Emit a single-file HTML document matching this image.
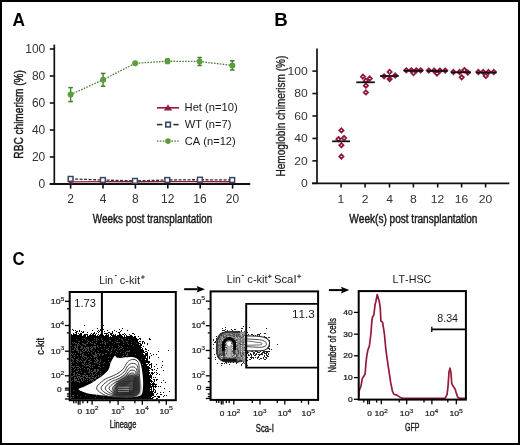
<!DOCTYPE html><html><head><meta charset="utf-8"><style>html,body{margin:0;padding:0;background:#fff;}svg{display:block;filter:blur(0.22px);}text{font-family:"Liberation Sans",sans-serif;font-kerning:none;}</style></head><body>
<svg width="520" height="445" viewBox="0 0 520 445">
<rect x="0" y="0" width="520" height="445" fill="#fff"/>
<defs><filter id="bl" x="-5%" y="-5%" width="110%" height="110%"><feGaussianBlur stdDeviation="0.45"/></filter><filter id="bl2" x="-20%" y="-20%" width="140%" height="140%"><feGaussianBlur stdDeviation="1.2"/></filter></defs>
<text transform="translate(12.47,25.60) scale(0.9346,1)" font-size="18.5" font-weight="bold" fill="#000" >A</text>
<line x1="54.30" y1="44.60" x2="54.30" y2="184.80" stroke="#111" stroke-width="1.7" />
<line x1="49.80" y1="184.00" x2="250.20" y2="184.00" stroke="#111" stroke-width="1.8" />
<line x1="49.80" y1="184.00" x2="54.30" y2="184.00" stroke="#111" stroke-width="1.6" />
<text transform="translate(38.59,187.90) scale(1.0000,1)" font-size="12" font-weight="normal" fill="#333" >0</text>
<line x1="49.80" y1="157.00" x2="54.30" y2="157.00" stroke="#111" stroke-width="1.6" />
<text transform="translate(31.92,160.90) scale(1.0000,1)" font-size="12" font-weight="normal" fill="#333" >20</text>
<line x1="49.80" y1="130.00" x2="54.30" y2="130.00" stroke="#111" stroke-width="1.6" />
<text transform="translate(31.92,133.90) scale(1.0000,1)" font-size="12" font-weight="normal" fill="#333" >40</text>
<line x1="49.80" y1="103.00" x2="54.30" y2="103.00" stroke="#111" stroke-width="1.6" />
<text transform="translate(31.92,106.90) scale(1.0000,1)" font-size="12" font-weight="normal" fill="#333" >60</text>
<line x1="49.80" y1="76.00" x2="54.30" y2="76.00" stroke="#111" stroke-width="1.6" />
<text transform="translate(31.92,79.90) scale(1.0000,1)" font-size="12" font-weight="normal" fill="#333" >80</text>
<line x1="49.80" y1="49.00" x2="54.30" y2="49.00" stroke="#111" stroke-width="1.6" />
<text transform="translate(25.25,52.90) scale(1.0000,1)" font-size="12" font-weight="normal" fill="#333" >100</text>
<line x1="70.60" y1="184.00" x2="70.60" y2="188.60" stroke="#111" stroke-width="1.6" />
<text transform="translate(67.26,203.30) scale(1.0000,1)" font-size="12" font-weight="normal" fill="#333" >2</text>
<line x1="103.00" y1="184.00" x2="103.00" y2="188.60" stroke="#111" stroke-width="1.6" />
<text transform="translate(99.70,203.30) scale(1.0000,1)" font-size="12" font-weight="normal" fill="#333" >4</text>
<line x1="135.40" y1="184.00" x2="135.40" y2="188.60" stroke="#111" stroke-width="1.6" />
<text transform="translate(132.06,203.30) scale(1.0000,1)" font-size="12" font-weight="normal" fill="#333" >8</text>
<line x1="167.80" y1="184.00" x2="167.80" y2="188.60" stroke="#111" stroke-width="1.6" />
<text transform="translate(160.97,203.30) scale(1.0000,1)" font-size="12" font-weight="normal" fill="#333" >12</text>
<line x1="200.20" y1="184.00" x2="200.20" y2="188.60" stroke="#111" stroke-width="1.6" />
<text transform="translate(193.33,203.30) scale(1.0000,1)" font-size="12" font-weight="normal" fill="#333" >16</text>
<line x1="232.60" y1="184.00" x2="232.60" y2="188.60" stroke="#111" stroke-width="1.6" />
<text transform="translate(225.86,203.30) scale(1.0000,1)" font-size="12" font-weight="normal" fill="#333" >20</text>
<text transform="translate(92.76,223.00) scale(0.7862,1)" font-size="12.6" font-weight="normal" fill="#1a1a1a" stroke="#1a1a1a" stroke-width="0.45" >Weeks post transplantation</text>
<text transform="translate(22.50,158.63) rotate(-90) scale(0.7891,1)" font-size="12.8" font-weight="normal" fill="#1a1a1a" stroke="#1a1a1a" stroke-width="0.45">RBC chimerism (%)</text>
<line x1="156.90" y1="107.80" x2="179.00" y2="107.80" stroke="#961a3e" stroke-width="1.6" />
<path d="M168.00,104.60 L172.20,110.40 L163.80,110.40 Z" fill="#961a3e" stroke="none" stroke-width="1" />
<line x1="156.90" y1="124.60" x2="162.40" y2="124.60" stroke="#2a2f3f" stroke-width="1.6" />
<line x1="173.40" y1="124.60" x2="178.60" y2="124.60" stroke="#2a2f3f" stroke-width="1.6" />
<rect x="165.8" y="122.3" width="4.6" height="4.6" fill="#fff" stroke="#3a4562" stroke-width="1.6"/>
<line x1="156.90" y1="141.20" x2="179.00" y2="141.20" stroke="#4a7f30" stroke-width="1.3" stroke-dasharray="1.6 1.3"/>
<circle cx="168" cy="141.1" r="2.8" fill="#5a9e3c"/>
<text transform="translate(184.58,110.70) scale(1.0272,1)" font-size="10.9" font-weight="normal" fill="#1a1a1a" >Het (n=10)</text>
<text transform="translate(184.85,127.80) scale(1.0178,1)" font-size="10.9" font-weight="normal" fill="#1a1a1a" >WT (n=7)</text>
<text transform="translate(184.73,144.70) scale(1.0215,1)" font-size="10.9" font-weight="normal" fill="#1a1a1a" >CA (n=12)</text>
<path d="M70.60,181.90 L102.90,181.60 L135.00,181.70 L167.30,181.60 L199.90,181.60 L232.20,181.70" fill="none" stroke="#961a3e" stroke-width="1.4" />
<path d="M70.60,178.90 L102.90,180.00 L135.00,180.90 L167.30,180.00 L199.90,179.70 L232.20,180.00" fill="none" stroke="#2a2f3f" stroke-width="1.3" stroke-dasharray="3 1.5"/>
<path d="M70.60,179.30 L73.20,183.50 L68.00,183.50 Z" fill="#961a3e" stroke="none" stroke-width="1" />
<path d="M102.90,179.00 L105.50,183.20 L100.30,183.20 Z" fill="#961a3e" stroke="none" stroke-width="1" />
<path d="M135.00,179.10 L137.60,183.30 L132.40,183.30 Z" fill="#961a3e" stroke="none" stroke-width="1" />
<path d="M167.30,179.00 L169.90,183.20 L164.70,183.20 Z" fill="#961a3e" stroke="none" stroke-width="1" />
<path d="M199.90,179.00 L202.50,183.20 L197.30,183.20 Z" fill="#961a3e" stroke="none" stroke-width="1" />
<path d="M232.20,179.10 L234.80,183.30 L229.60,183.30 Z" fill="#961a3e" stroke="none" stroke-width="1" />
<rect x="68.20" y="176.50" width="4.8" height="4.8" fill="#fff" stroke="#3a4562" stroke-width="1.5"/>
<rect x="100.50" y="177.60" width="4.8" height="4.8" fill="#fff" stroke="#3a4562" stroke-width="1.5"/>
<rect x="132.60" y="178.50" width="4.8" height="4.8" fill="#fff" stroke="#3a4562" stroke-width="1.5"/>
<rect x="164.90" y="177.60" width="4.8" height="4.8" fill="#fff" stroke="#3a4562" stroke-width="1.5"/>
<rect x="197.50" y="177.30" width="4.8" height="4.8" fill="#fff" stroke="#3a4562" stroke-width="1.5"/>
<rect x="229.80" y="177.60" width="4.8" height="4.8" fill="#fff" stroke="#3a4562" stroke-width="1.5"/>
<path d="M70.60,94.60 L103.10,79.80 L135.20,63.30 L167.50,61.20 L199.60,61.50 L232.30,65.40" fill="none" stroke="#4a7f30" stroke-width="1.3" stroke-dasharray="1.6 1.3"/>
<line x1="70.60" y1="87.60" x2="70.60" y2="101.60" stroke="#4a7f30" stroke-width="1.4" />
<line x1="68.30" y1="87.60" x2="72.90" y2="87.60" stroke="#4a7f30" stroke-width="1.5" />
<line x1="68.30" y1="101.60" x2="72.90" y2="101.60" stroke="#4a7f30" stroke-width="1.5" />
<circle cx="70.6" cy="94.6" r="3.0" fill="#5a9e3c"/>
<line x1="103.10" y1="73.40" x2="103.10" y2="86.20" stroke="#4a7f30" stroke-width="1.4" />
<line x1="100.80" y1="73.40" x2="105.40" y2="73.40" stroke="#4a7f30" stroke-width="1.5" />
<line x1="100.80" y1="86.20" x2="105.40" y2="86.20" stroke="#4a7f30" stroke-width="1.5" />
<circle cx="103.1" cy="79.8" r="3.0" fill="#5a9e3c"/>
<circle cx="135.2" cy="63.3" r="3.0" fill="#5a9e3c"/>
<line x1="167.50" y1="59.00" x2="167.50" y2="63.40" stroke="#4a7f30" stroke-width="1.4" />
<line x1="165.20" y1="59.00" x2="169.80" y2="59.00" stroke="#4a7f30" stroke-width="1.5" />
<line x1="165.20" y1="63.40" x2="169.80" y2="63.40" stroke="#4a7f30" stroke-width="1.5" />
<circle cx="167.5" cy="61.2" r="3.0" fill="#5a9e3c"/>
<line x1="199.60" y1="57.50" x2="199.60" y2="65.50" stroke="#4a7f30" stroke-width="1.4" />
<line x1="197.30" y1="57.50" x2="201.90" y2="57.50" stroke="#4a7f30" stroke-width="1.5" />
<line x1="197.30" y1="65.50" x2="201.90" y2="65.50" stroke="#4a7f30" stroke-width="1.5" />
<circle cx="199.6" cy="61.5" r="3.0" fill="#5a9e3c"/>
<line x1="232.30" y1="60.80" x2="232.30" y2="70.00" stroke="#4a7f30" stroke-width="1.4" />
<line x1="230.00" y1="60.80" x2="234.60" y2="60.80" stroke="#4a7f30" stroke-width="1.5" />
<line x1="230.00" y1="70.00" x2="234.60" y2="70.00" stroke="#4a7f30" stroke-width="1.5" />
<circle cx="232.3" cy="65.4" r="3.0" fill="#5a9e3c"/>
<text transform="translate(274.35,25.80) scale(1.0104,1)" font-size="18.5" font-weight="bold" fill="#000" >B</text>
<line x1="317.00" y1="48.40" x2="317.00" y2="184.10" stroke="#111" stroke-width="1.7" />
<line x1="312.00" y1="183.30" x2="509.30" y2="183.30" stroke="#111" stroke-width="1.8" />
<line x1="312.40" y1="183.30" x2="317.00" y2="183.30" stroke="#111" stroke-width="1.6" />
<text transform="translate(301.12,187.00) scale(1.1800,1)" font-size="10.3" font-weight="normal" fill="#333" >0</text>
<line x1="312.40" y1="160.86" x2="317.00" y2="160.86" stroke="#111" stroke-width="1.6" />
<text transform="translate(294.36,164.56) scale(1.1800,1)" font-size="10.3" font-weight="normal" fill="#333" >20</text>
<line x1="312.40" y1="138.42" x2="317.00" y2="138.42" stroke="#111" stroke-width="1.6" />
<text transform="translate(294.36,142.12) scale(1.1800,1)" font-size="10.3" font-weight="normal" fill="#333" >40</text>
<line x1="312.40" y1="115.98" x2="317.00" y2="115.98" stroke="#111" stroke-width="1.6" />
<text transform="translate(294.36,119.68) scale(1.1800,1)" font-size="10.3" font-weight="normal" fill="#333" >60</text>
<line x1="312.40" y1="93.54" x2="317.00" y2="93.54" stroke="#111" stroke-width="1.6" />
<text transform="translate(294.36,97.24) scale(1.1800,1)" font-size="10.3" font-weight="normal" fill="#333" >80</text>
<line x1="312.40" y1="71.10" x2="317.00" y2="71.10" stroke="#111" stroke-width="1.6" />
<text transform="translate(287.60,74.80) scale(1.1800,1)" font-size="10.3" font-weight="normal" fill="#333" >100</text>
<line x1="341.10" y1="183.30" x2="341.10" y2="187.50" stroke="#111" stroke-width="1.6" />
<text transform="translate(337.55,202.90) scale(1.1800,1)" font-size="10.3" font-weight="normal" fill="#333" >1</text>
<line x1="365.10" y1="183.30" x2="365.10" y2="187.50" stroke="#111" stroke-width="1.6" />
<text transform="translate(361.72,202.90) scale(1.1800,1)" font-size="10.3" font-weight="normal" fill="#333" >2</text>
<line x1="389.50" y1="183.30" x2="389.50" y2="187.50" stroke="#111" stroke-width="1.6" />
<text transform="translate(386.16,202.90) scale(1.1800,1)" font-size="10.3" font-weight="normal" fill="#333" >4</text>
<line x1="413.40" y1="183.30" x2="413.40" y2="187.50" stroke="#111" stroke-width="1.6" />
<text transform="translate(410.02,202.90) scale(1.1800,1)" font-size="10.3" font-weight="normal" fill="#333" >8</text>
<line x1="437.70" y1="183.30" x2="437.70" y2="187.50" stroke="#111" stroke-width="1.6" />
<text transform="translate(430.78,202.90) scale(1.1800,1)" font-size="10.3" font-weight="normal" fill="#333" >12</text>
<line x1="461.60" y1="183.30" x2="461.60" y2="187.50" stroke="#111" stroke-width="1.6" />
<text transform="translate(454.64,202.90) scale(1.1800,1)" font-size="10.3" font-weight="normal" fill="#333" >16</text>
<line x1="485.60" y1="183.30" x2="485.60" y2="187.50" stroke="#111" stroke-width="1.6" />
<text transform="translate(478.77,202.90) scale(1.1800,1)" font-size="10.3" font-weight="normal" fill="#333" >20</text>
<text transform="translate(349.36,222.50) scale(0.8249,1)" font-size="12.2" font-weight="normal" fill="#1a1a1a" stroke="#1a1a1a" stroke-width="0.45" >Week(s) post transplantation</text>
<text transform="translate(284.60,176.53) rotate(-90) scale(0.8397,1)" font-size="12.0" font-weight="normal" fill="#1a1a1a" stroke="#1a1a1a" stroke-width="0.3">Hemoglobin chimerism (%)</text>
<path d="M341.40,128.25 L343.55,130.40 L341.40,132.55 L339.25,130.40 Z" fill="#fff" stroke="#8e1639" stroke-width="1.75"/>
<path d="M338.50,136.95 L340.65,139.10 L338.50,141.25 L336.35,139.10 Z" fill="#fff" stroke="#8e1639" stroke-width="1.75"/>
<path d="M344.10,135.85 L346.25,138.00 L344.10,140.15 L341.95,138.00 Z" fill="#fff" stroke="#8e1639" stroke-width="1.75"/>
<path d="M341.40,143.05 L343.55,145.20 L341.40,147.35 L339.25,145.20 Z" fill="#fff" stroke="#8e1639" stroke-width="1.75"/>
<path d="M341.40,154.35 L343.55,156.50 L341.40,158.65 L339.25,156.50 Z" fill="#fff" stroke="#8e1639" stroke-width="1.75"/>
<line x1="332.20" y1="141.30" x2="350.00" y2="141.30" stroke="#111" stroke-width="1.8" />
<path d="M363.00,74.55 L365.15,76.70 L363.00,78.85 L360.85,76.70 Z" fill="#fff" stroke="#8e1639" stroke-width="1.75"/>
<path d="M369.70,76.35 L371.85,78.50 L369.70,80.65 L367.55,78.50 Z" fill="#fff" stroke="#8e1639" stroke-width="1.75"/>
<path d="M365.90,78.75 L368.05,80.90 L365.90,83.05 L363.75,80.90 Z" fill="#fff" stroke="#8e1639" stroke-width="1.75"/>
<path d="M365.90,83.55 L368.05,85.70 L365.90,87.85 L363.75,85.70 Z" fill="#fff" stroke="#8e1639" stroke-width="1.75"/>
<path d="M365.90,90.25 L368.05,92.40 L365.90,94.55 L363.75,92.40 Z" fill="#fff" stroke="#8e1639" stroke-width="1.75"/>
<line x1="356.30" y1="82.30" x2="374.80" y2="82.30" stroke="#111" stroke-width="1.8" />
<path d="M389.60,69.75 L391.75,71.90 L389.60,74.05 L387.45,71.90 Z" fill="#fff" stroke="#8e1639" stroke-width="1.75"/>
<path d="M384.10,74.15 L386.25,76.30 L384.10,78.45 L381.95,76.30 Z" fill="#fff" stroke="#8e1639" stroke-width="1.75"/>
<path d="M395.20,73.35 L397.35,75.50 L395.20,77.65 L393.05,75.50 Z" fill="#fff" stroke="#8e1639" stroke-width="1.75"/>
<path d="M389.60,76.85 L391.75,79.00 L389.60,81.15 L387.45,79.00 Z" fill="#8e1639" stroke="#8e1639" stroke-width="1.75"/>
<line x1="380.00" y1="76.00" x2="398.70" y2="76.00" stroke="#111" stroke-width="1.8" />
<path d="M406.30,68.15 L408.45,70.30 L406.30,72.45 L404.15,70.30 Z" fill="#fff" stroke="#8e1639" stroke-width="1.75"/>
<path d="M411.30,68.15 L413.45,70.30 L411.30,72.45 L409.15,70.30 Z" fill="#fff" stroke="#8e1639" stroke-width="1.75"/>
<path d="M416.30,68.15 L418.45,70.30 L416.30,72.45 L414.15,70.30 Z" fill="#fff" stroke="#8e1639" stroke-width="1.75"/>
<path d="M420.70,68.15 L422.85,70.30 L420.70,72.45 L418.55,70.30 Z" fill="#fff" stroke="#8e1639" stroke-width="1.75"/>
<path d="M413.50,70.85 L415.65,73.00 L413.50,75.15 L411.35,73.00 Z" fill="#fff" stroke="#8e1639" stroke-width="1.75"/>
<line x1="403.80" y1="70.80" x2="423.00" y2="70.80" stroke="#111" stroke-width="1.8" />
<path d="M428.80,68.45 L430.95,70.60 L428.80,72.75 L426.65,70.60 Z" fill="#fff" stroke="#8e1639" stroke-width="1.75"/>
<path d="M434.10,68.45 L436.25,70.60 L434.10,72.75 L431.95,70.60 Z" fill="#fff" stroke="#8e1639" stroke-width="1.75"/>
<path d="M439.90,68.45 L442.05,70.60 L439.90,72.75 L437.75,70.60 Z" fill="#fff" stroke="#8e1639" stroke-width="1.75"/>
<path d="M445.20,68.45 L447.35,70.60 L445.20,72.75 L443.05,70.60 Z" fill="#fff" stroke="#8e1639" stroke-width="1.75"/>
<path d="M437.00,71.35 L439.15,73.50 L437.00,75.65 L434.85,73.50 Z" fill="#fff" stroke="#8e1639" stroke-width="1.75"/>
<line x1="427.00" y1="71.00" x2="447.60" y2="71.00" stroke="#111" stroke-width="1.8" />
<path d="M453.40,69.85 L455.55,72.00 L453.40,74.15 L451.25,72.00 Z" fill="#fff" stroke="#8e1639" stroke-width="1.75"/>
<path d="M459.60,69.85 L461.75,72.00 L459.60,74.15 L457.45,72.00 Z" fill="#fff" stroke="#8e1639" stroke-width="1.75"/>
<path d="M464.40,67.95 L466.55,70.10 L464.40,72.25 L462.25,70.10 Z" fill="#fff" stroke="#8e1639" stroke-width="1.75"/>
<path d="M467.80,70.35 L469.95,72.50 L467.80,74.65 L465.65,72.50 Z" fill="#fff" stroke="#8e1639" stroke-width="1.75"/>
<path d="M461.70,75.15 L463.85,77.30 L461.70,79.45 L459.55,77.30 Z" fill="#fff" stroke="#8e1639" stroke-width="1.75"/>
<line x1="451.00" y1="72.30" x2="471.00" y2="72.30" stroke="#111" stroke-width="1.8" />
<path d="M478.40,69.85 L480.55,72.00 L478.40,74.15 L476.25,72.00 Z" fill="#fff" stroke="#8e1639" stroke-width="1.75"/>
<path d="M483.20,69.85 L485.35,72.00 L483.20,74.15 L481.05,72.00 Z" fill="#fff" stroke="#8e1639" stroke-width="1.75"/>
<path d="M488.50,69.85 L490.65,72.00 L488.50,74.15 L486.35,72.00 Z" fill="#fff" stroke="#8e1639" stroke-width="1.75"/>
<path d="M493.80,69.85 L495.95,72.00 L493.80,74.15 L491.65,72.00 Z" fill="#fff" stroke="#8e1639" stroke-width="1.75"/>
<path d="M485.80,73.75 L487.95,75.90 L485.80,78.05 L483.65,75.90 Z" fill="#fff" stroke="#8e1639" stroke-width="1.75"/>
<line x1="476.00" y1="72.50" x2="496.60" y2="72.50" stroke="#111" stroke-width="1.8" />
<text transform="translate(12.41,265.00) scale(0.9094,1)" font-size="18.5" font-weight="bold" fill="#000" >C</text>
<text transform="translate(99.24,283.70) scale(0.9323,1)" font-size="11.2" font-weight="normal" fill="#1a1a1a" >Lin</text>
<line x1="114.90" y1="275.60" x2="116.70" y2="275.60" stroke="#1a1a1a" stroke-width="1.0" />
<text transform="translate(119.73,283.70) scale(0.9914,1)" font-size="11.2" font-weight="normal" fill="#1a1a1a" >c-kit</text>
<line x1="141.00" y1="277.10" x2="144.80" y2="277.10" stroke="#1a1a1a" stroke-width="0.85" />
<line x1="142.90" y1="275.20" x2="142.90" y2="279.00" stroke="#1a1a1a" stroke-width="0.85" />
<text transform="translate(226.84,283.30) scale(0.9323,1)" font-size="11.2" font-weight="normal" fill="#1a1a1a" >Lin</text>
<line x1="241.70" y1="275.40" x2="243.80" y2="275.40" stroke="#1a1a1a" stroke-width="1.0" />
<text transform="translate(247.33,283.30) scale(0.9914,1)" font-size="11.2" font-weight="normal" fill="#1a1a1a" >c-kit</text>
<line x1="268.00" y1="276.30" x2="271.60" y2="276.30" stroke="#1a1a1a" stroke-width="0.85" />
<line x1="269.80" y1="274.50" x2="269.80" y2="278.10" stroke="#1a1a1a" stroke-width="0.85" />
<text transform="translate(273.99,283.30) scale(1.0063,1)" font-size="11.2" font-weight="normal" fill="#1a1a1a" >ScaI</text>
<line x1="297.20" y1="276.30" x2="301.00" y2="276.30" stroke="#1a1a1a" stroke-width="0.85" />
<line x1="299.10" y1="274.40" x2="299.10" y2="278.20" stroke="#1a1a1a" stroke-width="0.85" />
<text transform="translate(392.62,283.20) scale(0.9565,1)" font-size="11.2" font-weight="normal" fill="#1a1a1a" >LT-HSC</text>
<line x1="184.20" y1="289.20" x2="197.70" y2="289.20" stroke="#000" stroke-width="2.0" />
<path d="M205.00,289.20 L196.70,285.90 L197.90,289.20 L196.70,292.50 Z" fill="#000" stroke="none" stroke-width="1" />
<line x1="328.90" y1="290.10" x2="342.00" y2="290.10" stroke="#000" stroke-width="2.0" />
<path d="M349.30,290.10 L341.00,286.80 L342.20,290.10 L341.00,293.40 Z" fill="#000" stroke="none" stroke-width="1" />
<path d="M70.8,337.0 L80.0,336.6 L90.0,337.1 L100.0,336.7 L110.0,337.1 L120.0,336.7 L127.0,337.2 L132.0,337.8 L136.0,339.8 L138.6,344.5 L140.8,351.0 L143.5,358.0 L145.8,366.0 L147.5,375.0 L148.6,385.0 L148.8,393.0 L148.4,399.2 L70.8,399.2 Z" fill="#000"/>
<g filter="url(#bl)">
<path d="M84,325h1v1h-1zM103,325h1v1h-1zM97,328h1v1h-1zM122,328h1v1h-1zM72,329h1v1h-1zM100,329h1v1h-1zM103,329h1v1h-1zM119,329h1v1h-1zM73,330h1v1h-1zM75,330h1v1h-1zM79,330h1v1h-1zM92,330h1v1h-1zM98,330h1v1h-1zM100,330h1v1h-1zM107,330h1v1h-1zM114,330h1v1h-1zM121,330h1v1h-1zM127,330h1v1h-1zM76,331h2v1h-2zM79,331h1v1h-1zM81,331h1v1h-1zM83,331h1v1h-1zM97,331h1v1h-1zM99,331h1v1h-1zM104,331h1v1h-1zM112,331h1v1h-1zM116,331h1v1h-1zM120,331h1v1h-1zM75,332h2v1h-2zM82,332h2v1h-2zM87,332h1v1h-1zM94,332h1v1h-1zM98,332h1v1h-1zM108,332h2v1h-2zM112,332h1v1h-1zM118,332h2v1h-2zM73,333h1v1h-1zM76,333h1v1h-1zM78,333h1v1h-1zM80,333h2v1h-2zM91,333h1v1h-1zM93,333h2v1h-2zM96,333h1v1h-1zM104,333h4v1h-4zM110,333h3v1h-3zM119,333h1v1h-1zM124,333h1v1h-1zM132,333h2v1h-2zM71,334h1v1h-1zM73,334h4v1h-4zM79,334h3v1h-3zM84,334h4v1h-4zM90,334h1v1h-1zM92,334h2v1h-2zM95,334h1v1h-1zM98,334h1v1h-1zM100,334h1v1h-1zM102,334h1v1h-1zM106,334h1v1h-1zM108,334h1v1h-1zM110,334h2v1h-2zM113,334h1v1h-1zM115,334h1v1h-1zM119,334h2v1h-2zM122,334h2v1h-2zM125,334h1v1h-1zM129,334h1v1h-1zM134,334h1v1h-1zM71,335h11v1h-11zM83,335h3v1h-3zM87,335h1v1h-1zM89,335h7v1h-7zM97,335h1v1h-1zM99,335h5v1h-5zM105,335h4v1h-4zM111,335h5v1h-5zM117,335h5v1h-5zM124,335h1v1h-1zM126,335h1v1h-1zM130,335h2v1h-2zM71,336h15v1h-15zM87,336h22v1h-22zM110,336h1v1h-1zM112,336h11v1h-11zM124,336h1v1h-1zM126,336h7v1h-7zM134,336h2v1h-2zM138,336h1v1h-1zM72,337h64v1h-64zM128,338h9v1h-9zM139,338h2v1h-2zM149,338h1v1h-1zM133,339h6v1h-6zM140,339h1v1h-1zM149,339h2v1h-2zM135,340h3v1h-3zM136,341h2v1h-2zM139,341h2v1h-2zM142,341h2v1h-2zM136,342h3v1h-3zM142,342h1v1h-1zM144,342h1v1h-1zM137,343h4v1h-4zM142,343h1v1h-1zM144,343h1v1h-1zM147,343h1v1h-1zM137,344h2v1h-2zM140,344h2v1h-2zM147,344h1v1h-1zM138,345h4v1h-4zM138,346h3v1h-3zM143,346h1v1h-1zM138,347h4v1h-4zM139,348h2v1h-2zM142,348h1v1h-1zM145,348h1v1h-1zM139,349h4v1h-4zM145,349h2v1h-2zM139,350h5v1h-5zM148,350h1v1h-1zM168,350h1v1h-1zM140,351h4v1h-4zM145,351h2v1h-2zM158,351h1v1h-1zM140,352h5v1h-5zM147,352h1v1h-1zM140,353h3v1h-3zM145,353h3v1h-3zM150,353h1v1h-1zM141,354h3v1h-3zM145,354h3v1h-3zM153,354h1v1h-1zM156,354h1v1h-1zM141,355h7v1h-7zM151,355h1v1h-1zM142,356h4v1h-4zM147,356h1v1h-1zM149,356h1v1h-1zM142,357h4v1h-4zM147,357h1v1h-1zM149,357h1v1h-1zM158,357h1v1h-1zM142,358h6v1h-6zM149,358h1v1h-1zM143,359h2v1h-2zM146,359h2v1h-2zM143,360h5v1h-5zM143,361h7v1h-7zM162,361h1v1h-1zM144,362h6v1h-6zM144,363h2v1h-2zM148,363h1v1h-1zM151,363h1v1h-1zM144,364h4v1h-4zM149,364h3v1h-3zM156,364h1v1h-1zM144,365h3v1h-3zM149,365h1v1h-1zM151,365h1v1h-1zM162,365h1v1h-1zM145,366h4v1h-4zM151,366h1v1h-1zM154,366h1v1h-1zM145,367h5v1h-5zM151,367h1v1h-1zM161,367h1v1h-1zM145,368h6v1h-6zM157,368h1v1h-1zM145,369h4v1h-4zM151,369h2v1h-2zM154,369h1v1h-1zM145,370h5v1h-5zM152,370h1v1h-1zM156,370h1v1h-1zM163,370h1v1h-1zM146,371h3v1h-3zM146,372h4v1h-4zM151,372h2v1h-2zM154,372h1v1h-1zM156,372h1v1h-1zM146,373h4v1h-4zM151,373h3v1h-3zM157,373h1v1h-1zM146,374h3v1h-3zM150,374h1v1h-1zM152,374h1v1h-1zM156,374h1v1h-1zM159,374h1v1h-1zM146,375h6v1h-6zM146,376h6v1h-6zM147,377h5v1h-5zM153,377h1v1h-1zM155,377h1v1h-1zM147,378h3v1h-3zM151,378h1v1h-1zM147,379h4v1h-4zM153,379h2v1h-2zM156,379h2v1h-2zM147,380h5v1h-5zM154,380h1v1h-1zM156,380h1v1h-1zM163,380h1v1h-1zM147,381h6v1h-6zM154,381h1v1h-1zM147,382h3v1h-3zM151,382h1v1h-1zM153,382h1v1h-1zM161,382h1v1h-1zM165,382h1v1h-1zM147,383h4v1h-4zM152,383h3v1h-3zM147,384h10v1h-10zM147,385h4v1h-4zM152,385h2v1h-2zM155,385h1v1h-1zM147,386h10v1h-10zM158,386h1v1h-1zM160,386h1v1h-1zM147,387h5v1h-5zM153,387h1v1h-1zM155,387h1v1h-1zM147,388h3v1h-3zM151,388h1v1h-1zM153,388h1v1h-1zM164,388h1v1h-1zM148,389h4v1h-4zM153,389h2v1h-2zM148,390h2v1h-2zM151,390h1v1h-1zM153,390h1v1h-1zM155,390h1v1h-1zM148,391h6v1h-6zM155,391h1v1h-1zM169,391h1v1h-1zM148,392h5v1h-5zM154,392h2v1h-2zM160,392h1v1h-1zM163,392h1v1h-1zM148,393h6v1h-6zM157,393h1v1h-1zM148,394h6v1h-6zM156,394h1v1h-1zM160,394h2v1h-2zM147,395h7v1h-7zM164,395h1v1h-1zM166,395h1v1h-1zM147,396h5v1h-5zM154,396h2v1h-2zM157,396h3v1h-3zM163,396h1v1h-1zM147,397h4v1h-4zM152,397h2v1h-2zM158,397h2v1h-2zM72,398h81v1h-81zM156,398h2v1h-2z" fill="#000"/>
<path d="M84,338h1v1h-1zM94,338h1v1h-1zM96,338h1v1h-1zM101,338h1v1h-1zM119,338h1v1h-1zM125,338h1v1h-1zM76,339h1v1h-1zM85,339h1v1h-1zM96,339h1v1h-1zM98,339h1v1h-1zM101,339h1v1h-1zM121,339h2v1h-2zM128,339h1v1h-1zM82,340h1v1h-1zM87,340h1v1h-1zM94,340h1v1h-1zM96,340h1v1h-1zM102,340h1v1h-1zM109,340h2v1h-2zM117,340h1v1h-1zM122,340h1v1h-1zM78,341h2v1h-2zM88,341h1v1h-1zM92,341h1v1h-1zM104,341h1v1h-1zM115,341h1v1h-1zM123,341h1v1h-1zM126,341h2v1h-2zM72,342h1v1h-1zM74,342h1v1h-1zM87,342h1v1h-1zM90,342h1v1h-1zM96,342h1v1h-1zM102,342h1v1h-1zM105,342h1v1h-1zM107,342h1v1h-1zM112,342h1v1h-1zM116,342h4v1h-4zM123,342h1v1h-1zM131,342h1v1h-1zM73,343h1v1h-1zM75,343h2v1h-2zM78,343h1v1h-1zM82,343h2v1h-2zM86,343h2v1h-2zM91,343h2v1h-2zM94,343h1v1h-1zM100,343h1v1h-1zM102,343h1v1h-1zM104,343h2v1h-2zM114,343h1v1h-1zM127,343h1v1h-1zM136,343h1v1h-1zM77,344h1v1h-1zM79,344h1v1h-1zM83,344h3v1h-3zM94,344h2v1h-2zM105,344h1v1h-1zM123,344h1v1h-1zM128,344h1v1h-1zM131,344h1v1h-1zM71,345h1v1h-1zM75,345h1v1h-1zM77,345h2v1h-2zM80,345h1v1h-1zM85,345h1v1h-1zM97,345h1v1h-1zM118,345h1v1h-1zM133,345h1v1h-1zM74,346h2v1h-2zM77,346h1v1h-1zM81,346h2v1h-2zM91,346h1v1h-1zM93,346h3v1h-3zM97,346h1v1h-1zM100,346h1v1h-1zM104,346h1v1h-1zM109,346h1v1h-1zM112,346h1v1h-1zM119,346h1v1h-1zM121,346h1v1h-1zM72,347h1v1h-1zM75,347h1v1h-1zM77,347h1v1h-1zM81,347h2v1h-2zM84,347h1v1h-1zM86,347h3v1h-3zM90,347h1v1h-1zM92,347h1v1h-1zM94,347h2v1h-2zM98,347h1v1h-1zM118,347h1v1h-1zM122,347h1v1h-1zM127,347h1v1h-1zM74,348h1v1h-1zM76,348h2v1h-2zM80,348h2v1h-2zM84,348h2v1h-2zM87,348h2v1h-2zM91,348h2v1h-2zM95,348h1v1h-1zM104,348h1v1h-1zM108,348h1v1h-1zM112,348h1v1h-1zM115,348h1v1h-1zM120,348h2v1h-2zM74,349h1v1h-1zM76,349h2v1h-2zM83,349h1v1h-1zM85,349h2v1h-2zM88,349h1v1h-1zM90,349h2v1h-2zM101,349h1v1h-1zM106,349h2v1h-2zM111,349h1v1h-1zM114,349h1v1h-1zM117,349h1v1h-1zM119,349h1v1h-1zM123,349h1v1h-1zM72,350h2v1h-2zM76,350h3v1h-3zM82,350h1v1h-1zM85,350h2v1h-2zM88,350h1v1h-1zM91,350h1v1h-1zM94,350h1v1h-1zM97,350h1v1h-1zM108,350h1v1h-1zM111,350h1v1h-1zM129,350h1v1h-1zM78,351h1v1h-1zM80,351h1v1h-1zM83,351h2v1h-2zM87,351h1v1h-1zM89,351h1v1h-1zM93,351h1v1h-1zM98,351h1v1h-1zM116,351h1v1h-1zM126,351h4v1h-4zM78,352h1v1h-1zM80,352h2v1h-2zM91,352h1v1h-1zM95,352h1v1h-1zM111,352h1v1h-1zM117,352h1v1h-1zM120,352h1v1h-1zM125,352h1v1h-1zM71,353h1v1h-1zM73,353h1v1h-1zM75,353h1v1h-1zM80,353h1v1h-1zM83,353h1v1h-1zM88,353h1v1h-1zM91,353h1v1h-1zM95,353h1v1h-1zM97,353h2v1h-2zM100,353h1v1h-1zM105,353h2v1h-2zM110,353h1v1h-1zM115,353h1v1h-1zM123,353h1v1h-1zM125,353h1v1h-1zM127,353h1v1h-1zM72,354h1v1h-1zM82,354h1v1h-1zM92,354h1v1h-1zM95,354h2v1h-2zM99,354h1v1h-1zM102,354h2v1h-2zM127,354h1v1h-1zM135,354h1v1h-1zM74,355h1v1h-1zM77,355h1v1h-1zM80,355h1v1h-1zM82,355h2v1h-2zM93,355h4v1h-4zM99,355h1v1h-1zM102,355h1v1h-1zM123,355h1v1h-1zM126,355h2v1h-2zM71,356h1v1h-1zM82,356h1v1h-1zM84,356h3v1h-3zM90,356h1v1h-1zM94,356h3v1h-3zM122,356h1v1h-1zM74,357h1v1h-1zM83,357h1v1h-1zM86,357h1v1h-1zM88,357h1v1h-1zM91,357h1v1h-1zM94,357h1v1h-1zM97,357h1v1h-1zM108,357h1v1h-1zM110,357h1v1h-1zM118,357h1v1h-1zM125,357h1v1h-1zM128,357h1v1h-1zM71,358h2v1h-2zM78,358h1v1h-1zM81,358h1v1h-1zM84,358h1v1h-1zM87,358h1v1h-1zM96,358h1v1h-1zM72,359h2v1h-2zM76,359h2v1h-2zM82,359h1v1h-1zM86,359h1v1h-1zM90,359h1v1h-1zM94,359h1v1h-1zM96,359h2v1h-2zM100,359h1v1h-1zM129,359h1v1h-1zM141,359h1v1h-1zM73,360h1v1h-1zM77,360h2v1h-2zM80,360h1v1h-1zM85,360h1v1h-1zM88,360h2v1h-2zM95,360h1v1h-1zM97,360h2v1h-2zM100,360h1v1h-1zM108,360h1v1h-1zM114,360h1v1h-1zM72,361h1v1h-1zM76,361h1v1h-1zM79,361h1v1h-1zM81,361h1v1h-1zM83,361h3v1h-3zM90,361h2v1h-2zM96,361h2v1h-2zM100,361h1v1h-1zM121,361h1v1h-1zM134,361h1v1h-1zM71,362h1v1h-1zM73,362h1v1h-1zM77,362h1v1h-1zM84,362h1v1h-1zM89,362h1v1h-1zM94,362h3v1h-3zM99,362h1v1h-1zM104,362h1v1h-1zM109,362h1v1h-1zM117,362h2v1h-2zM82,363h1v1h-1zM84,363h1v1h-1zM86,363h1v1h-1zM88,363h1v1h-1zM97,363h1v1h-1zM103,363h1v1h-1zM110,363h1v1h-1zM113,363h1v1h-1zM71,364h1v1h-1zM76,364h1v1h-1zM82,364h2v1h-2zM89,364h2v1h-2zM99,364h1v1h-1zM142,364h1v1h-1zM84,365h1v1h-1zM86,365h3v1h-3zM90,365h1v1h-1zM92,365h1v1h-1zM94,365h1v1h-1zM128,365h1v1h-1zM71,366h4v1h-4zM76,366h3v1h-3zM86,366h1v1h-1zM89,366h1v1h-1zM98,366h2v1h-2zM103,366h1v1h-1zM129,366h1v1h-1zM73,367h1v1h-1zM79,367h1v1h-1zM82,367h1v1h-1zM90,367h1v1h-1zM92,367h1v1h-1zM100,367h1v1h-1zM118,367h1v1h-1zM136,367h1v1h-1zM71,368h1v1h-1zM75,368h1v1h-1zM77,368h2v1h-2zM80,368h1v1h-1zM84,368h1v1h-1zM87,368h2v1h-2zM120,368h1v1h-1zM127,368h1v1h-1zM131,368h1v1h-1zM74,369h1v1h-1zM87,369h1v1h-1zM89,369h1v1h-1zM94,369h2v1h-2zM97,369h2v1h-2zM140,369h1v1h-1zM71,370h1v1h-1zM78,370h1v1h-1zM80,370h1v1h-1zM89,370h1v1h-1zM91,370h1v1h-1zM94,370h2v1h-2zM97,370h2v1h-2zM76,371h2v1h-2zM89,371h1v1h-1zM93,371h3v1h-3zM97,371h1v1h-1zM100,371h1v1h-1zM121,371h1v1h-1zM123,371h1v1h-1zM135,371h1v1h-1zM71,372h1v1h-1zM74,372h1v1h-1zM81,372h1v1h-1zM88,372h2v1h-2zM91,372h2v1h-2zM96,372h1v1h-1zM136,372h1v1h-1zM73,373h2v1h-2zM77,373h1v1h-1zM84,373h2v1h-2zM92,373h1v1h-1zM95,373h1v1h-1zM100,373h1v1h-1zM74,374h1v1h-1zM76,374h1v1h-1zM78,374h2v1h-2zM90,374h1v1h-1zM92,374h1v1h-1zM94,374h1v1h-1zM96,374h1v1h-1zM73,375h2v1h-2zM76,375h1v1h-1zM80,375h1v1h-1zM82,375h3v1h-3zM86,375h2v1h-2zM89,375h1v1h-1zM92,375h2v1h-2zM98,375h1v1h-1zM100,375h1v1h-1zM120,375h1v1h-1zM129,375h1v1h-1zM135,375h1v1h-1zM137,375h1v1h-1zM140,375h1v1h-1zM71,376h2v1h-2zM77,376h3v1h-3zM83,376h1v1h-1zM85,376h1v1h-1zM87,376h1v1h-1zM91,376h1v1h-1zM96,376h1v1h-1zM98,376h1v1h-1zM74,377h2v1h-2zM77,377h1v1h-1zM79,377h4v1h-4zM86,377h5v1h-5zM92,377h2v1h-2zM95,377h1v1h-1zM126,377h1v1h-1zM136,377h1v1h-1zM74,378h1v1h-1zM78,378h1v1h-1zM80,378h1v1h-1zM83,378h1v1h-1zM89,378h1v1h-1zM94,378h2v1h-2zM100,378h1v1h-1zM108,378h1v1h-1zM74,379h3v1h-3zM78,379h1v1h-1zM81,379h1v1h-1zM83,379h1v1h-1zM85,379h1v1h-1zM87,379h1v1h-1zM90,379h3v1h-3zM96,379h1v1h-1zM99,379h1v1h-1zM105,379h1v1h-1zM115,379h1v1h-1zM140,379h1v1h-1zM72,380h1v1h-1zM74,380h3v1h-3zM81,380h1v1h-1zM83,380h1v1h-1zM89,380h1v1h-1zM91,380h1v1h-1zM93,380h1v1h-1zM96,380h1v1h-1zM98,380h1v1h-1zM100,380h1v1h-1zM105,380h1v1h-1zM118,380h1v1h-1zM134,380h1v1h-1zM140,380h1v1h-1zM71,381h1v1h-1zM74,381h1v1h-1zM77,381h3v1h-3zM82,381h1v1h-1zM87,381h1v1h-1zM92,381h3v1h-3zM96,381h1v1h-1zM99,381h2v1h-2zM105,381h1v1h-1zM110,381h1v1h-1zM115,381h1v1h-1zM79,382h1v1h-1zM99,382h1v1h-1zM124,382h1v1h-1zM135,382h1v1h-1zM134,383h1v1h-1zM139,383h1v1h-1zM108,384h1v1h-1zM125,384h1v1h-1zM98,385h1v1h-1zM95,386h1v1h-1zM107,386h1v1h-1zM132,386h1v1h-1zM86,387h1v1h-1zM112,387h1v1h-1zM118,387h1v1h-1zM133,387h2v1h-2zM141,388h1v1h-1zM82,389h1v1h-1zM108,389h1v1h-1zM73,390h1v1h-1zM83,390h1v1h-1zM93,390h1v1h-1zM139,390h1v1h-1zM89,392h1v1h-1zM89,393h2v1h-2zM110,393h1v1h-1zM139,393h1v1h-1zM96,394h1v1h-1zM121,394h1v1h-1zM124,394h1v1h-1zM72,395h2v1h-2zM77,395h1v1h-1zM85,395h1v1h-1zM96,395h1v1h-1zM120,395h1v1h-1zM80,396h1v1h-1zM120,396h1v1h-1zM71,397h1v1h-1zM73,397h1v1h-1zM95,397h1v1h-1zM103,397h1v1h-1zM115,397h1v1h-1zM117,397h1v1h-1zM126,397h1v1h-1z" fill="#4a4a4a"/>
</g>
<line x1="101.90" y1="292.00" x2="101.90" y2="338.00" stroke="#000" stroke-width="2.0" />
<path d="M78.60,389.20 C78.77,388.32 82.18,387.70 84.50,386.60 C86.82,385.50 90.22,383.93 92.50,382.60 C94.78,381.27 96.35,379.92 98.20,378.60 C100.05,377.28 102.05,375.97 103.60,374.70 C105.15,373.43 106.57,372.12 107.50,371.00 C108.43,369.88 108.68,369.33 109.20,368.00 C109.72,366.67 110.07,364.45 110.60,363.00 C111.13,361.55 111.68,360.52 112.40,359.30 C113.12,358.08 114.20,356.02 114.90,355.70 C115.60,355.38 115.60,357.03 116.60,357.40 C117.60,357.77 119.33,357.92 120.90,357.90 C122.47,357.88 124.38,357.47 126.00,357.30 C127.62,357.13 128.93,356.80 130.60,356.90 C132.27,357.00 134.38,356.92 136.00,357.90 C137.62,358.88 139.22,360.18 140.30,362.80 C141.38,365.42 142.03,369.73 142.50,373.60 C142.97,377.47 143.25,382.50 143.10,386.00 C142.95,389.50 142.78,392.80 141.60,394.60 C140.42,396.40 138.60,396.33 136.00,396.80 C133.40,397.27 130.00,397.43 126.00,397.40 C122.00,397.37 116.23,396.97 112.00,396.60 C107.77,396.23 104.27,395.67 100.60,395.20 C96.93,394.73 92.85,394.35 90.00,393.80 C87.15,393.25 85.40,392.67 83.50,391.90 C81.60,391.13 78.43,390.08 78.60,389.20 Z" fill="#fff"/>
<path d="M112.50,392.00 C112.75,390.08 113.67,386.75 115.00,384.50 C116.33,382.25 118.42,380.12 120.50,378.50 C122.58,376.88 125.17,375.52 127.50,374.80 C129.83,374.08 132.62,373.70 134.50,374.20 C136.38,374.70 137.82,375.83 138.80,377.80 C139.78,379.77 140.27,383.33 140.40,386.00 C140.53,388.67 140.67,391.93 139.60,393.80 C138.53,395.67 137.27,396.60 134.00,397.20 C130.73,397.80 123.42,397.60 120.00,397.40 C116.58,397.20 114.75,396.90 113.50,396.00 C112.25,395.10 112.25,393.92 112.50,392.00 Z" fill="#333" fill-opacity="0.85" filter="url(#bl2)"/>
<path d="M96.60,387.60 C96.95,385.40 101.37,381.97 103.60,380.20 C105.83,378.43 107.83,378.02 110.00,377.00 C112.17,375.98 114.43,375.38 116.60,374.10 C118.77,372.82 121.20,371.28 123.00,369.30 C124.80,367.32 125.95,363.82 127.40,362.20 C128.85,360.58 130.27,359.95 131.70,359.60 C133.13,359.25 134.83,359.38 136.00,360.10 C137.17,360.82 138.13,361.65 138.70,363.90 C139.27,366.15 139.22,370.18 139.40,373.60 C139.58,377.02 139.92,381.17 139.80,384.40 C139.68,387.63 139.83,390.97 138.70,393.00 C137.57,395.03 134.88,395.88 133.00,396.60 C131.12,397.32 131.03,397.27 127.40,397.30 C123.77,397.33 115.52,397.45 111.20,396.80 C106.88,396.15 103.93,394.93 101.50,393.40 C99.07,391.87 96.25,389.80 96.60,387.60 Z" fill="none" stroke="#262626" stroke-width="0.9"/>
<path d="M101.07,387.78 C101.38,385.87 105.22,382.88 107.16,381.34 C109.10,379.81 110.84,379.44 112.73,378.56 C114.62,377.68 116.59,377.15 118.47,376.04 C120.36,374.92 122.47,373.59 124.04,371.86 C125.61,370.14 126.61,367.09 127.87,365.68 C129.13,364.28 130.36,363.73 131.61,363.42 C132.86,363.12 134.33,363.23 135.35,363.86 C136.37,364.48 137.21,365.21 137.70,367.16 C138.19,369.12 138.15,372.63 138.31,375.60 C138.47,378.57 138.76,382.19 138.66,385.00 C138.55,387.81 138.68,390.71 137.70,392.48 C136.71,394.25 134.38,394.99 132.74,395.61 C131.10,396.24 131.03,396.19 127.87,396.22 C124.71,396.25 117.53,396.35 113.77,395.79 C110.02,395.22 107.45,394.16 105.34,392.83 C103.22,391.49 100.77,389.70 101.07,387.78 Z" fill="none" stroke="#262626" stroke-width="0.9"/>
<path d="M105.20,387.95 C105.46,386.30 108.77,383.72 110.45,382.40 C112.12,381.07 113.62,380.76 115.25,380.00 C116.88,379.24 118.57,378.79 120.20,377.83 C121.82,376.86 123.65,375.71 125.00,374.23 C126.35,372.74 127.21,370.11 128.30,368.90 C129.39,367.69 130.45,367.21 131.52,366.95 C132.60,366.69 133.88,366.79 134.75,367.33 C135.62,367.86 136.35,368.49 136.77,370.17 C137.20,371.86 137.16,374.89 137.30,377.45 C137.44,380.01 137.69,383.12 137.60,385.55 C137.51,387.97 137.62,390.47 136.77,392.00 C135.92,393.53 133.91,394.16 132.50,394.70 C131.09,395.24 131.03,395.20 128.30,395.23 C125.58,395.25 119.39,395.34 116.15,394.85 C112.91,394.36 110.70,393.45 108.88,392.30 C107.05,391.15 104.94,389.60 105.20,387.95 Z" fill="none" stroke="#262626" stroke-width="0.9"/>
<path d="M108.98,388.10 C109.21,386.70 112.03,384.50 113.46,383.37 C114.89,382.24 116.17,381.97 117.56,381.32 C118.95,380.67 120.40,380.29 121.78,379.46 C123.17,378.64 124.73,377.66 125.88,376.39 C127.03,375.12 127.77,372.88 128.70,371.85 C129.62,370.81 130.53,370.41 131.45,370.18 C132.37,369.96 133.45,370.05 134.20,370.50 C134.95,370.96 135.57,371.50 135.93,372.94 C136.29,374.38 136.26,376.96 136.38,379.14 C136.49,381.33 136.71,383.99 136.63,386.06 C136.56,388.13 136.65,390.26 135.93,391.56 C135.20,392.86 133.49,393.41 132.28,393.86 C131.07,394.32 131.02,394.29 128.70,394.31 C126.37,394.33 121.09,394.41 118.33,393.99 C115.57,393.58 113.68,392.80 112.12,391.82 C110.56,390.83 108.76,389.51 108.98,388.10 Z" fill="none" stroke="#262626" stroke-width="0.9"/>
<path d="M112.42,388.24 C112.61,387.06 115.00,385.20 116.20,384.25 C117.41,383.29 118.49,383.07 119.66,382.52 C120.83,381.97 122.05,381.65 123.22,380.95 C124.39,380.26 125.71,379.43 126.68,378.36 C127.65,377.29 128.27,375.40 129.06,374.53 C129.84,373.66 130.60,373.31 131.38,373.12 C132.15,372.94 133.07,373.01 133.70,373.39 C134.33,373.78 134.85,374.23 135.16,375.45 C135.46,376.66 135.44,378.84 135.54,380.68 C135.63,382.53 135.81,384.77 135.75,386.52 C135.69,388.26 135.77,390.06 135.16,391.16 C134.55,392.26 133.10,392.72 132.08,393.10 C131.06,393.49 131.02,393.46 129.06,393.48 C127.09,393.50 122.64,393.56 120.31,393.21 C117.98,392.86 116.38,392.20 115.07,391.38 C113.76,390.55 112.23,389.43 112.42,388.24 Z" fill="none" stroke="#262626" stroke-width="0.9"/>
<path d="M115.52,388.37 C115.68,387.38 117.67,385.84 118.67,385.04 C119.67,384.25 120.58,384.06 121.55,383.60 C122.52,383.14 123.54,382.87 124.52,382.30 C125.50,381.72 126.59,381.03 127.40,380.13 C128.21,379.24 128.73,377.67 129.38,376.94 C130.03,376.21 130.67,375.93 131.31,375.77 C131.96,375.61 132.72,375.67 133.25,376.00 C133.78,376.32 134.21,376.69 134.47,377.70 C134.72,378.72 134.70,380.53 134.78,382.07 C134.86,383.61 135.01,385.48 134.96,386.93 C134.91,388.38 134.97,389.88 134.47,390.80 C133.96,391.72 132.75,392.10 131.90,392.42 C131.05,392.74 131.01,392.72 129.38,392.74 C127.74,392.75 124.03,392.80 122.09,392.51 C120.15,392.22 118.82,391.67 117.72,390.98 C116.63,390.29 115.36,389.36 115.52,388.37 Z" fill="none" stroke="#262626" stroke-width="0.9"/>
<path d="M118.27,388.48 C118.40,387.67 120.04,386.40 120.86,385.74 C121.69,385.09 122.43,384.94 123.23,384.56 C124.03,384.18 124.87,383.96 125.67,383.49 C126.47,383.01 127.37,382.44 128.04,381.71 C128.71,380.98 129.13,379.68 129.67,379.08 C130.20,378.49 130.73,378.25 131.26,378.12 C131.79,377.99 132.42,378.04 132.85,378.31 C133.28,378.57 133.64,378.88 133.85,379.71 C134.06,380.55 134.04,382.04 134.11,383.30 C134.18,384.57 134.30,386.10 134.26,387.30 C134.21,388.49 134.27,389.73 133.85,390.48 C133.43,391.23 132.44,391.55 131.74,391.81 C131.04,392.08 131.01,392.06 129.67,392.07 C128.32,392.08 125.27,392.13 123.67,391.89 C122.08,391.65 120.99,391.20 120.09,390.63 C119.18,390.06 118.14,389.30 118.27,388.48 Z" fill="none" stroke="#262626" stroke-width="0.9"/>
<path d="M120.68,388.58 C120.78,387.92 122.11,386.89 122.78,386.36 C123.45,385.83 124.05,385.70 124.70,385.40 C125.35,385.09 126.03,384.92 126.68,384.53 C127.33,384.15 128.06,383.69 128.60,383.09 C129.14,382.50 129.49,381.44 129.92,380.96 C130.36,380.47 130.78,380.29 131.21,380.18 C131.64,380.07 132.15,380.12 132.50,380.33 C132.85,380.54 133.14,380.79 133.31,381.47 C133.48,382.14 133.47,383.36 133.52,384.38 C133.58,385.40 133.68,386.65 133.64,387.62 C133.61,388.59 133.65,389.59 133.31,390.20 C132.97,390.81 132.16,391.07 131.60,391.28 C131.03,391.50 131.01,391.48 129.92,391.49 C128.83,391.50 126.36,391.54 125.06,391.34 C123.77,391.15 122.88,390.78 122.15,390.32 C121.42,389.86 120.57,389.24 120.68,388.58 Z" fill="none" stroke="#262626" stroke-width="0.9"/>
<line x1="116.00" y1="381.50" x2="134.00" y2="381.50" stroke="#1a1a1a" stroke-width="0.9" stroke-opacity="0.45"/>
<line x1="116.00" y1="383.80" x2="134.00" y2="383.80" stroke="#1a1a1a" stroke-width="0.9" stroke-opacity="0.45"/>
<line x1="116.00" y1="386.00" x2="134.00" y2="386.00" stroke="#1a1a1a" stroke-width="0.9" stroke-opacity="0.45"/>
<line x1="116.00" y1="388.20" x2="134.00" y2="388.20" stroke="#1a1a1a" stroke-width="0.9" stroke-opacity="0.45"/>
<line x1="116.00" y1="390.40" x2="134.00" y2="390.40" stroke="#1a1a1a" stroke-width="0.9" stroke-opacity="0.45"/>
<line x1="116.00" y1="392.60" x2="134.00" y2="392.60" stroke="#1a1a1a" stroke-width="0.9" stroke-opacity="0.45"/>
<line x1="116.00" y1="394.60" x2="134.00" y2="394.60" stroke="#1a1a1a" stroke-width="0.9" stroke-opacity="0.45"/>
<line x1="118.00" y1="387.30" x2="129.00" y2="387.30" stroke="#d8d8d8" stroke-width="0.8" stroke-opacity="0.6"/>
<line x1="118.00" y1="389.50" x2="129.00" y2="389.50" stroke="#d8d8d8" stroke-width="0.8" stroke-opacity="0.6"/>
<line x1="118.00" y1="391.60" x2="129.00" y2="391.60" stroke="#d8d8d8" stroke-width="0.8" stroke-opacity="0.6"/>
<line x1="138.00" y1="376.00" x2="138.60" y2="394.00" stroke="#333" stroke-width="1.6" stroke-opacity="0.6"/>
<g filter="url(#bl)">
<path d="M243,326h1v1h-1zM225,327h1v1h-1zM249,327h1v1h-1zM222,328h1v1h-1zM241,328h2v1h-2zM266,328h1v1h-1zM225,329h1v1h-1zM231,329h1v1h-1zM234,329h2v1h-2zM222,330h3v1h-3zM227,330h1v1h-1zM232,330h1v1h-1zM241,330h1v1h-1zM225,331h2v1h-2zM232,331h1v1h-1zM236,331h4v1h-4zM241,331h1v1h-1zM244,331h1v1h-1zM246,331h1v1h-1zM222,332h2v1h-2zM244,332h1v1h-1zM247,332h1v1h-1zM220,333h1v1h-1zM222,333h1v1h-1zM244,333h1v1h-1zM246,333h1v1h-1zM260,333h1v1h-1zM264,333h2v1h-2zM248,334h1v1h-1zM251,334h2v1h-2zM257,334h3v1h-3zM219,335h1v1h-1zM247,335h1v1h-1zM253,335h1v1h-1zM255,335h1v1h-1zM257,335h1v1h-1zM259,335h1v1h-1zM216,336h1v1h-1zM218,336h1v1h-1zM258,336h2v1h-2zM264,336h1v1h-1zM265,337h2v1h-2zM268,337h2v1h-2zM216,338h1v1h-1zM266,338h1v1h-1zM213,339h1v1h-1zM216,339h1v1h-1zM213,340h1v1h-1zM216,340h1v1h-1zM269,340h1v1h-1zM215,341h1v1h-1zM269,341h1v1h-1zM214,342h2v1h-2zM269,342h1v1h-1zM269,343h1v1h-1zM213,344h1v1h-1zM277,344h1v1h-1zM269,345h1v1h-1zM269,346h1v1h-1zM213,348h1v1h-1zM267,348h3v1h-3zM216,349h1v1h-1zM265,349h1v1h-1zM269,349h1v1h-1zM271,349h1v1h-1zM216,350h1v1h-1zM247,351h1v1h-1zM251,351h2v1h-2zM255,351h3v1h-3zM260,351h1v1h-1zM263,351h7v1h-7zM247,352h2v1h-2zM253,352h2v1h-2zM257,352h3v1h-3zM262,352h3v1h-3zM266,352h2v1h-2zM216,353h1v1h-1zM247,353h1v1h-1zM250,353h1v1h-1zM253,353h2v1h-2zM256,353h1v1h-1zM261,353h2v1h-2zM264,353h3v1h-3zM268,353h1v1h-1zM214,354h1v1h-1zM248,354h1v1h-1zM250,354h2v1h-2zM253,354h1v1h-1zM255,354h2v1h-2zM258,354h5v1h-5zM266,354h1v1h-1zM268,354h1v1h-1zM246,355h1v1h-1zM248,355h2v1h-2zM251,355h1v1h-1zM254,355h2v1h-2zM259,355h1v1h-1zM264,355h1v1h-1zM266,355h2v1h-2zM217,356h1v1h-1zM246,356h1v1h-1zM251,356h1v1h-1zM258,356h1v1h-1zM264,356h1v1h-1zM267,356h2v1h-2zM215,357h1v1h-1zM246,357h2v1h-2zM250,357h4v1h-4zM255,357h1v1h-1zM257,357h2v1h-2zM263,357h1v1h-1zM265,357h2v1h-2zM219,358h1v1h-1zM251,358h1v1h-1zM253,358h1v1h-1zM257,358h1v1h-1zM260,358h2v1h-2zM263,358h1v1h-1zM266,358h1v1h-1zM215,359h1v1h-1zM220,359h1v1h-1zM249,359h2v1h-2zM259,359h1v1h-1zM264,359h2v1h-2zM244,360h1v1h-1zM247,360h1v1h-1zM224,361h1v1h-1zM228,361h1v1h-1zM234,361h7v1h-7zM243,361h2v1h-2zM246,361h1v1h-1zM225,362h2v1h-2zM228,362h1v1h-1zM230,362h1v1h-1zM233,362h1v1h-1zM236,362h2v1h-2zM243,362h1v1h-1zM217,363h1v1h-1zM221,363h2v1h-2zM224,363h1v1h-1zM226,363h1v1h-1zM236,363h1v1h-1zM242,363h1v1h-1zM244,363h1v1h-1zM229,364h1v1h-1zM241,364h1v1h-1zM221,365h1v1h-1zM241,365h1v1h-1zM247,365h1v1h-1z" fill="#222"/>
</g>
<path d="M240.50,332.30 C238.23,331.93 234.58,331.78 232.00,331.80 C229.42,331.82 226.97,331.90 225.00,332.40 C223.03,332.90 221.43,333.62 220.20,334.80 C218.97,335.98 218.15,337.47 217.60,339.50 C217.05,341.53 216.95,344.67 216.90,347.00 C216.85,349.33 216.95,351.67 217.30,353.50 C217.65,355.33 218.05,356.77 219.00,358.00 C219.95,359.23 221.17,360.30 223.00,360.90 C224.83,361.50 227.50,361.52 230.00,361.60 C232.50,361.68 235.92,361.50 238.00,361.40 C240.08,361.30 241.23,361.27 242.50,361.00 C243.77,360.73 245.08,364.30 245.60,359.80 C246.12,355.30 246.45,338.58 245.60,334.00 C244.75,329.42 242.77,332.67 240.50,332.30 Z" fill="#959595"/>
<g filter="url(#bl)">
<path d="M226,332h1v1h-1zM234,332h1v1h-1zM239,332h1v1h-1zM232,333h1v1h-1zM229,334h1v1h-1zM233,334h2v1h-2zM236,334h1v1h-1zM238,334h2v1h-2zM242,334h1v1h-1zM221,335h1v1h-1zM223,335h1v1h-1zM226,335h1v1h-1zM236,335h1v1h-1zM238,335h1v1h-1zM244,335h1v1h-1zM223,336h1v1h-1zM233,336h2v1h-2zM236,336h2v1h-2zM239,336h1v1h-1zM243,336h1v1h-1zM219,337h1v1h-1zM223,337h2v1h-2zM226,337h1v1h-1zM229,337h2v1h-2zM241,337h1v1h-1zM229,338h1v1h-1zM233,338h2v1h-2zM245,338h1v1h-1zM220,339h1v1h-1zM229,339h1v1h-1zM236,339h1v1h-1zM240,339h1v1h-1zM225,340h1v1h-1zM230,340h1v1h-1zM234,340h3v1h-3zM217,341h1v1h-1zM219,341h1v1h-1zM222,341h1v1h-1zM228,341h1v1h-1zM235,341h1v1h-1zM219,342h1v1h-1zM222,342h1v1h-1zM234,342h3v1h-3zM243,342h1v1h-1zM222,343h1v1h-1zM227,343h2v1h-2zM231,343h1v1h-1zM234,343h1v1h-1zM239,343h1v1h-1zM221,344h1v1h-1zM225,344h1v1h-1zM229,344h1v1h-1zM240,344h2v1h-2zM244,344h1v1h-1zM217,345h2v1h-2zM225,345h1v1h-1zM227,345h1v1h-1zM237,345h1v1h-1zM245,345h1v1h-1zM229,346h1v1h-1zM236,346h1v1h-1zM221,347h2v1h-2zM225,347h2v1h-2zM233,347h1v1h-1zM242,347h1v1h-1zM244,347h1v1h-1zM219,348h1v1h-1zM227,348h1v1h-1zM234,348h1v1h-1zM237,348h1v1h-1zM224,349h2v1h-2zM229,349h2v1h-2zM237,349h1v1h-1zM222,350h1v1h-1zM227,350h2v1h-2zM238,350h1v1h-1zM244,350h2v1h-2zM219,351h1v1h-1zM222,351h3v1h-3zM227,351h1v1h-1zM230,351h1v1h-1zM232,351h1v1h-1zM238,351h1v1h-1zM222,352h1v1h-1zM238,352h1v1h-1zM240,352h1v1h-1zM243,352h1v1h-1zM245,352h1v1h-1zM219,353h2v1h-2zM222,353h1v1h-1zM226,353h1v1h-1zM228,353h1v1h-1zM230,353h1v1h-1zM234,353h2v1h-2zM238,353h1v1h-1zM240,353h1v1h-1zM242,353h1v1h-1zM219,354h2v1h-2zM222,354h2v1h-2zM234,354h1v1h-1zM236,354h1v1h-1zM243,354h1v1h-1zM219,355h1v1h-1zM221,355h1v1h-1zM223,355h1v1h-1zM227,355h1v1h-1zM230,355h1v1h-1zM233,355h1v1h-1zM236,355h2v1h-2zM241,355h1v1h-1zM223,356h1v1h-1zM228,356h2v1h-2zM232,356h1v1h-1zM236,356h1v1h-1zM241,356h1v1h-1zM223,357h2v1h-2zM229,357h1v1h-1zM235,357h1v1h-1zM238,357h1v1h-1zM224,358h1v1h-1zM229,358h1v1h-1zM233,358h2v1h-2zM242,358h1v1h-1zM221,359h3v1h-3zM230,359h1v1h-1zM234,359h1v1h-1zM239,360h1v1h-1zM231,361h1v1h-1z" fill="#4a4a4a"/>
<path d="M231,332h1v1h-1zM240,332h1v1h-1zM226,333h1v1h-1zM228,333h1v1h-1zM239,333h1v1h-1zM226,334h1v1h-1zM231,334h1v1h-1zM235,334h1v1h-1zM240,334h2v1h-2zM224,335h1v1h-1zM242,335h1v1h-1zM225,336h1v1h-1zM227,336h2v1h-2zM235,336h1v1h-1zM244,336h1v1h-1zM222,337h1v1h-1zM227,337h1v1h-1zM238,337h1v1h-1zM244,337h1v1h-1zM218,338h1v1h-1zM236,338h2v1h-2zM242,338h1v1h-1zM221,339h2v1h-2zM241,339h1v1h-1zM218,340h1v1h-1zM221,340h2v1h-2zM233,340h1v1h-1zM238,340h1v1h-1zM224,341h1v1h-1zM231,341h1v1h-1zM236,341h2v1h-2zM217,342h1v1h-1zM220,342h1v1h-1zM226,342h1v1h-1zM230,342h1v1h-1zM218,343h2v1h-2zM221,343h1v1h-1zM225,343h1v1h-1zM233,343h1v1h-1zM236,343h2v1h-2zM240,343h2v1h-2zM244,343h1v1h-1zM217,344h1v1h-1zM222,344h1v1h-1zM231,344h1v1h-1zM233,344h1v1h-1zM237,344h1v1h-1zM232,345h1v1h-1zM241,345h1v1h-1zM244,345h1v1h-1zM223,346h1v1h-1zM226,346h1v1h-1zM228,346h1v1h-1zM234,346h1v1h-1zM237,346h1v1h-1zM242,346h2v1h-2zM219,347h2v1h-2zM232,347h1v1h-1zM236,347h1v1h-1zM240,347h2v1h-2zM217,348h2v1h-2zM221,348h2v1h-2zM225,348h1v1h-1zM231,348h1v1h-1zM242,348h1v1h-1zM222,349h1v1h-1zM232,349h1v1h-1zM241,349h1v1h-1zM224,350h1v1h-1zM233,350h1v1h-1zM218,351h1v1h-1zM241,351h1v1h-1zM243,351h2v1h-2zM217,352h1v1h-1zM221,352h1v1h-1zM223,352h1v1h-1zM225,352h1v1h-1zM237,352h1v1h-1zM218,353h1v1h-1zM224,353h1v1h-1zM228,354h1v1h-1zM232,354h1v1h-1zM220,355h1v1h-1zM224,355h1v1h-1zM226,355h1v1h-1zM235,355h1v1h-1zM239,355h1v1h-1zM245,355h1v1h-1zM221,356h2v1h-2zM230,356h1v1h-1zM233,356h1v1h-1zM238,356h1v1h-1zM240,356h1v1h-1zM243,356h1v1h-1zM226,357h1v1h-1zM228,357h1v1h-1zM231,357h2v1h-2zM239,357h1v1h-1zM241,357h1v1h-1zM244,357h2v1h-2zM220,358h3v1h-3zM225,358h1v1h-1zM240,358h1v1h-1zM243,358h1v1h-1zM225,359h1v1h-1zM233,359h1v1h-1zM237,359h2v1h-2zM223,360h1v1h-1zM231,360h1v1h-1zM232,361h1v1h-1z" fill="#d0d0d0"/>
</g>
<path d="M240.50,332.30 C239.08,332.22 234.58,331.78 232.00,331.80 C229.42,331.82 226.97,331.90 225.00,332.40 C223.03,332.90 221.43,333.62 220.20,334.80 C218.97,335.98 218.15,337.47 217.60,339.50 C217.05,341.53 216.95,344.67 216.90,347.00 C216.85,349.33 216.95,351.67 217.30,353.50 C217.65,355.33 218.05,356.77 219.00,358.00 C219.95,359.23 221.17,360.30 223.00,360.90 C224.83,361.50 227.50,361.52 230.00,361.60 C232.50,361.68 235.92,361.50 238.00,361.40 C240.08,361.30 241.75,361.07 242.50,361.00" fill="none" stroke="#333" stroke-width="2.0"/>
<path d="M239.40,334.21 C238.16,334.14 234.25,333.76 232.00,333.78 C229.75,333.79 227.62,333.86 225.91,334.30 C224.20,334.73 222.81,335.36 221.73,336.39 C220.66,337.42 219.95,338.71 219.47,340.48 C218.99,342.24 218.91,344.97 218.86,347.00 C218.82,349.03 218.91,351.06 219.21,352.65 C219.52,354.25 219.86,355.50 220.69,356.57 C221.52,357.64 222.57,358.57 224.17,359.09 C225.76,359.61 228.08,359.63 230.26,359.70 C232.44,359.77 235.41,359.61 237.22,359.53 C239.03,359.44 240.48,359.24 241.13,359.18" fill="none" stroke="#505050" stroke-width="0.9"/>
<path d="M238.38,335.98 C237.31,335.91 233.94,335.59 232.00,335.60 C230.06,335.61 228.22,335.67 226.75,336.05 C225.28,336.42 224.07,336.96 223.15,337.85 C222.22,338.74 221.61,339.85 221.20,341.38 C220.79,342.90 220.71,345.25 220.68,347.00 C220.64,348.75 220.71,350.50 220.98,351.88 C221.24,353.25 221.54,354.32 222.25,355.25 C222.96,356.18 223.88,356.97 225.25,357.42 C226.62,357.87 228.62,357.89 230.50,357.95 C232.38,358.01 234.94,357.87 236.50,357.80 C238.06,357.72 239.31,357.55 239.88,357.50" fill="none" stroke="#505050" stroke-width="0.9"/>
<line x1="237.80" y1="334.50" x2="237.80" y2="359.50" stroke="#606060" stroke-width="0.8" />
<line x1="240.30" y1="334.50" x2="240.30" y2="359.50" stroke="#606060" stroke-width="0.8" />
<line x1="242.80" y1="334.50" x2="242.80" y2="359.50" stroke="#606060" stroke-width="0.8" />
<path d="M223.8,356 L223.8,345 A5.2,5.8 0 0 1 234.2,345 L234.2,354" fill="none" stroke="#333" stroke-width="2.4"/>
<path d="M223.2,351 L223.2,345 A5.8,6.6 0 0 1 234.8,345 L234.8,350" fill="none" stroke="#000" stroke-width="2.8"/>
<rect x="227.3" y="346" width="3.6" height="11.5" fill="#b5b5b5"/>
<ellipse cx="229.0" cy="343.8" rx="2.0" ry="2.5" fill="#fff"/>
<rect x="222.2" y="358.4" width="14.5" height="3.2" rx="1.4" fill="#111"/>
<path d="M246,335.8 L258,336.2 C264,336.6 269.6,338.6 269.6,343 C269.6,347.6 266,350.9 259,350.9 L246,350.9 Z" fill="#fff" stroke="#2a2a2a" stroke-width="1.1"/>
<path d="M246,338.8 L258,339.6 C263,340 266.4,341.4 266.4,344 C266.4,346.4 263,347.5 258,347.3 L246,346.6" fill="none" stroke="#3a3a3a" stroke-width="0.9"/>
<path d="M246,341 L252,341.4 C254,341.8 255,342.3 258,342.3 C261,342.5 262,343.2 262,343.8 C262,344.6 260.5,345 258,345 L246,345.3" fill="none" stroke="#444" stroke-width="0.8"/>
<path d="M359.00,396.50 L358.80,391.50 L359.70,389.50 L361.10,385.40 L362.40,378.20 L363.80,376.30 L365.10,374.00 L366.00,362.50 L366.90,355.10 L367.80,350.40 L369.40,346.00 L371.00,333.00 L371.80,321.70 L372.50,317.00 L373.90,315.00 L375.00,304.80 L375.90,301.50 L377.20,294.60 L379.30,301.50 L380.30,308.20 L380.90,321.00 L382.60,322.40 L384.40,333.80 L385.70,348.00 L386.70,355.80 L388.70,369.30 L390.70,382.70 L392.40,391.00 L393.80,394.20 L396.80,395.10 L399.50,396.90 L402.80,398.40 L445.10,398.40 L447.10,394.40 L448.10,385.30 L449.00,372.10 L450.00,368.10 L451.00,373.10 L451.70,383.30 L453.20,386.30 L455.20,389.30 L456.40,393.40 L457.70,397.20 L459.80,398.40 L465.00,398.40" fill="none" stroke="#951a3a" stroke-width="1.7" stroke-linejoin="round"/>
<line x1="431.80" y1="329.40" x2="465.50" y2="329.40" stroke="#000" stroke-width="1.9" />
<line x1="431.80" y1="326.80" x2="431.80" y2="332.00" stroke="#000" stroke-width="1.3" />
<text transform="translate(437.24,322.40) scale(1.0675,1)" font-size="10.0" font-weight="normal" fill="#1a1a1a" >8.34</text>
<rect x="69.70" y="292.00" width="106.10" height="108.20" fill="none" stroke="#000" stroke-width="2"/>
<rect x="210.60" y="291.40" width="107.50" height="108.50" fill="none" stroke="#000" stroke-width="2"/>
<rect x="358.70" y="291.10" width="107.20" height="108.50" fill="none" stroke="#000" stroke-width="2"/>
<path d="M318.1,303.9 H246.2 V367.6 H318.1" fill="none" stroke="#000" stroke-width="1.9"/>
<text transform="translate(74.36,306.90) scale(1.0242,1)" font-size="10.8" font-weight="normal" fill="#1a1a1a" >1.73</text>
<text transform="translate(291.90,318.00) scale(1.0901,1)" font-size="10.8" font-weight="normal" fill="#1a1a1a" >11.3</text>
<line x1="64.90" y1="301.30" x2="69.70" y2="301.30" stroke="#000" stroke-width="1.3" />
<line x1="64.90" y1="325.50" x2="69.70" y2="325.50" stroke="#000" stroke-width="1.3" />
<line x1="64.90" y1="351.20" x2="69.70" y2="351.20" stroke="#000" stroke-width="1.3" />
<line x1="64.90" y1="375.80" x2="69.70" y2="375.80" stroke="#000" stroke-width="1.3" />
<line x1="66.90" y1="308.80" x2="69.70" y2="308.80" stroke="#000" stroke-width="1.3" />
<line x1="66.90" y1="332.90" x2="69.70" y2="332.90" stroke="#000" stroke-width="1.3" />
<line x1="66.90" y1="358.90" x2="69.70" y2="358.90" stroke="#000" stroke-width="1.3" />
<line x1="66.90" y1="381.90" x2="69.70" y2="381.90" stroke="#000" stroke-width="1.3" />
<line x1="66.90" y1="393.90" x2="69.70" y2="393.90" stroke="#000" stroke-width="1.3" />
<line x1="66.90" y1="396.20" x2="69.70" y2="396.20" stroke="#000" stroke-width="1.3" />
<line x1="64.90" y1="388.20" x2="69.70" y2="388.20" stroke="#000" stroke-width="1.3" />
<line x1="64.90" y1="390.00" x2="69.70" y2="390.00" stroke="#000" stroke-width="1.3" />
<line x1="64.90" y1="399.00" x2="69.70" y2="399.00" stroke="#000" stroke-width="1.3" />
<text transform="translate(50.85,303.90) scale(1.1500,1)" font-size="7.6" font-weight="normal" fill="#1a1a1a" stroke="#1a1a1a" stroke-width="0.22" >10</text>
<text transform="translate(60.45,300.50) scale(1.1500,1)" font-size="6.0" font-weight="normal" fill="#1a1a1a" stroke="#1a1a1a" stroke-width="0.15" >5</text>
<text transform="translate(50.64,328.10) scale(1.1500,1)" font-size="7.6" font-weight="normal" fill="#1a1a1a" stroke="#1a1a1a" stroke-width="0.22" >10</text>
<text transform="translate(60.36,324.70) scale(1.1500,1)" font-size="6.0" font-weight="normal" fill="#1a1a1a" stroke="#1a1a1a" stroke-width="0.15" >4</text>
<text transform="translate(50.85,353.80) scale(1.1500,1)" font-size="7.6" font-weight="normal" fill="#1a1a1a" stroke="#1a1a1a" stroke-width="0.22" >10</text>
<text transform="translate(60.47,350.40) scale(1.1500,1)" font-size="6.0" font-weight="normal" fill="#1a1a1a" stroke="#1a1a1a" stroke-width="0.15" >3</text>
<text transform="translate(50.98,378.40) scale(1.1500,1)" font-size="7.6" font-weight="normal" fill="#1a1a1a" stroke="#1a1a1a" stroke-width="0.22" >10</text>
<text transform="translate(60.51,375.00) scale(1.1500,1)" font-size="6.0" font-weight="normal" fill="#1a1a1a" stroke="#1a1a1a" stroke-width="0.15" >2</text>
<text transform="translate(56.88,391.50) scale(1.1000,1)" font-size="7.6" font-weight="normal" fill="#1a1a1a" stroke="#1a1a1a" stroke-width="0.2" >0</text>
<line x1="92.10" y1="400.20" x2="92.10" y2="404.80" stroke="#000" stroke-width="1.3" />
<line x1="118.10" y1="400.20" x2="118.10" y2="404.80" stroke="#000" stroke-width="1.3" />
<line x1="142.30" y1="400.20" x2="142.30" y2="404.80" stroke="#000" stroke-width="1.3" />
<line x1="166.30" y1="400.20" x2="166.30" y2="404.80" stroke="#000" stroke-width="1.3" />
<line x1="73.70" y1="400.20" x2="73.70" y2="403.20" stroke="#000" stroke-width="1.3" />
<line x1="76.00" y1="400.20" x2="76.00" y2="403.20" stroke="#000" stroke-width="1.3" />
<line x1="82.90" y1="400.20" x2="82.90" y2="403.20" stroke="#000" stroke-width="1.3" />
<line x1="87.50" y1="400.20" x2="87.50" y2="403.20" stroke="#000" stroke-width="1.3" />
<line x1="110.00" y1="400.20" x2="110.00" y2="403.20" stroke="#000" stroke-width="1.3" />
<line x1="134.90" y1="400.20" x2="134.90" y2="403.20" stroke="#000" stroke-width="1.3" />
<line x1="159.10" y1="400.20" x2="159.10" y2="403.20" stroke="#000" stroke-width="1.3" />
<line x1="78.30" y1="400.20" x2="78.30" y2="404.80" stroke="#000" stroke-width="1.3" />
<line x1="80.00" y1="400.20" x2="80.00" y2="404.80" stroke="#000" stroke-width="1.3" />
<text transform="translate(85.26,413.60) scale(1.1500,1)" font-size="7.6" font-weight="normal" fill="#1a1a1a" stroke="#1a1a1a" stroke-width="0.22" >10</text>
<text transform="translate(94.79,410.20) scale(1.1500,1)" font-size="6.0" font-weight="normal" fill="#1a1a1a" stroke="#1a1a1a" stroke-width="0.15" >2</text>
<text transform="translate(111.19,413.60) scale(1.1500,1)" font-size="7.6" font-weight="normal" fill="#1a1a1a" stroke="#1a1a1a" stroke-width="0.22" >10</text>
<text transform="translate(120.81,410.20) scale(1.1500,1)" font-size="6.0" font-weight="normal" fill="#1a1a1a" stroke="#1a1a1a" stroke-width="0.15" >3</text>
<text transform="translate(135.29,413.60) scale(1.1500,1)" font-size="7.6" font-weight="normal" fill="#1a1a1a" stroke="#1a1a1a" stroke-width="0.22" >10</text>
<text transform="translate(145.01,410.20) scale(1.1500,1)" font-size="6.0" font-weight="normal" fill="#1a1a1a" stroke="#1a1a1a" stroke-width="0.15" >4</text>
<text transform="translate(159.39,413.60) scale(1.1500,1)" font-size="7.6" font-weight="normal" fill="#1a1a1a" stroke="#1a1a1a" stroke-width="0.22" >10</text>
<text transform="translate(169.00,410.20) scale(1.1500,1)" font-size="6.0" font-weight="normal" fill="#1a1a1a" stroke="#1a1a1a" stroke-width="0.15" >5</text>
<text transform="translate(77.58,413.60) scale(1.1000,1)" font-size="7.6" font-weight="normal" fill="#1a1a1a" stroke="#1a1a1a" stroke-width="0.2" >0</text>
<line x1="205.80" y1="301.20" x2="210.60" y2="301.20" stroke="#000" stroke-width="1.3" />
<line x1="205.80" y1="325.70" x2="210.60" y2="325.70" stroke="#000" stroke-width="1.3" />
<line x1="205.80" y1="350.50" x2="210.60" y2="350.50" stroke="#000" stroke-width="1.3" />
<line x1="205.80" y1="375.80" x2="210.60" y2="375.80" stroke="#000" stroke-width="1.3" />
<line x1="207.80" y1="308.90" x2="210.60" y2="308.90" stroke="#000" stroke-width="1.3" />
<line x1="207.80" y1="332.90" x2="210.60" y2="332.90" stroke="#000" stroke-width="1.3" />
<line x1="207.80" y1="358.20" x2="210.60" y2="358.20" stroke="#000" stroke-width="1.3" />
<line x1="207.80" y1="381.60" x2="210.60" y2="381.60" stroke="#000" stroke-width="1.3" />
<line x1="207.80" y1="394.00" x2="210.60" y2="394.00" stroke="#000" stroke-width="1.3" />
<line x1="207.80" y1="396.60" x2="210.60" y2="396.60" stroke="#000" stroke-width="1.3" />
<line x1="205.80" y1="387.40" x2="210.60" y2="387.40" stroke="#000" stroke-width="1.3" />
<line x1="205.80" y1="389.40" x2="210.60" y2="389.40" stroke="#000" stroke-width="1.3" />
<line x1="205.80" y1="398.50" x2="210.60" y2="398.50" stroke="#000" stroke-width="1.3" />
<text transform="translate(191.65,303.80) scale(1.1500,1)" font-size="7.6" font-weight="normal" fill="#1a1a1a" stroke="#1a1a1a" stroke-width="0.22" >10</text>
<text transform="translate(201.25,300.40) scale(1.1500,1)" font-size="6.0" font-weight="normal" fill="#1a1a1a" stroke="#1a1a1a" stroke-width="0.15" >5</text>
<text transform="translate(191.44,328.30) scale(1.1500,1)" font-size="7.6" font-weight="normal" fill="#1a1a1a" stroke="#1a1a1a" stroke-width="0.22" >10</text>
<text transform="translate(201.16,324.90) scale(1.1500,1)" font-size="6.0" font-weight="normal" fill="#1a1a1a" stroke="#1a1a1a" stroke-width="0.15" >4</text>
<text transform="translate(191.65,353.10) scale(1.1500,1)" font-size="7.6" font-weight="normal" fill="#1a1a1a" stroke="#1a1a1a" stroke-width="0.22" >10</text>
<text transform="translate(201.27,349.70) scale(1.1500,1)" font-size="6.0" font-weight="normal" fill="#1a1a1a" stroke="#1a1a1a" stroke-width="0.15" >3</text>
<text transform="translate(191.78,378.40) scale(1.1500,1)" font-size="7.6" font-weight="normal" fill="#1a1a1a" stroke="#1a1a1a" stroke-width="0.22" >10</text>
<text transform="translate(201.31,375.00) scale(1.1500,1)" font-size="6.0" font-weight="normal" fill="#1a1a1a" stroke="#1a1a1a" stroke-width="0.15" >2</text>
<text transform="translate(196.68,390.40) scale(1.1000,1)" font-size="7.6" font-weight="normal" fill="#1a1a1a" stroke="#1a1a1a" stroke-width="0.2" >0</text>
<line x1="233.80" y1="399.90" x2="233.80" y2="404.50" stroke="#000" stroke-width="1.3" />
<line x1="260.00" y1="399.90" x2="260.00" y2="404.50" stroke="#000" stroke-width="1.3" />
<line x1="284.80" y1="399.90" x2="284.80" y2="404.50" stroke="#000" stroke-width="1.3" />
<line x1="308.50" y1="399.90" x2="308.50" y2="404.50" stroke="#000" stroke-width="1.3" />
<line x1="216.50" y1="399.90" x2="216.50" y2="402.90" stroke="#000" stroke-width="1.3" />
<line x1="218.80" y1="399.90" x2="218.80" y2="402.90" stroke="#000" stroke-width="1.3" />
<line x1="226.30" y1="399.90" x2="226.30" y2="402.90" stroke="#000" stroke-width="1.3" />
<line x1="229.20" y1="399.90" x2="229.20" y2="402.90" stroke="#000" stroke-width="1.3" />
<line x1="252.30" y1="399.90" x2="252.30" y2="402.90" stroke="#000" stroke-width="1.3" />
<line x1="277.30" y1="399.90" x2="277.30" y2="402.90" stroke="#000" stroke-width="1.3" />
<line x1="301.50" y1="399.90" x2="301.50" y2="402.90" stroke="#000" stroke-width="1.3" />
<line x1="221.30" y1="399.90" x2="221.30" y2="404.50" stroke="#000" stroke-width="1.3" />
<line x1="223.00" y1="399.90" x2="223.00" y2="404.50" stroke="#000" stroke-width="1.3" />
<text transform="translate(226.96,416.30) scale(1.1500,1)" font-size="7.6" font-weight="normal" fill="#1a1a1a" stroke="#1a1a1a" stroke-width="0.22" >10</text>
<text transform="translate(236.49,412.90) scale(1.1500,1)" font-size="6.0" font-weight="normal" fill="#1a1a1a" stroke="#1a1a1a" stroke-width="0.15" >2</text>
<text transform="translate(253.09,416.30) scale(1.1500,1)" font-size="7.6" font-weight="normal" fill="#1a1a1a" stroke="#1a1a1a" stroke-width="0.22" >10</text>
<text transform="translate(262.71,412.90) scale(1.1500,1)" font-size="6.0" font-weight="normal" fill="#1a1a1a" stroke="#1a1a1a" stroke-width="0.15" >3</text>
<text transform="translate(277.79,416.30) scale(1.1500,1)" font-size="7.6" font-weight="normal" fill="#1a1a1a" stroke="#1a1a1a" stroke-width="0.22" >10</text>
<text transform="translate(287.51,412.90) scale(1.1500,1)" font-size="6.0" font-weight="normal" fill="#1a1a1a" stroke="#1a1a1a" stroke-width="0.15" >4</text>
<text transform="translate(301.59,416.30) scale(1.1500,1)" font-size="7.6" font-weight="normal" fill="#1a1a1a" stroke="#1a1a1a" stroke-width="0.22" >10</text>
<text transform="translate(311.20,412.90) scale(1.1500,1)" font-size="6.0" font-weight="normal" fill="#1a1a1a" stroke="#1a1a1a" stroke-width="0.15" >5</text>
<text transform="translate(219.78,416.30) scale(1.1000,1)" font-size="7.6" font-weight="normal" fill="#1a1a1a" stroke="#1a1a1a" stroke-width="0.2" >0</text>
<line x1="353.90" y1="312.40" x2="358.70" y2="312.40" stroke="#000" stroke-width="1.3" />
<text transform="translate(343.26,315.00) scale(1.1200,1)" font-size="7.6" font-weight="normal" fill="#111" stroke="#111" stroke-width="0.2" >40</text>
<line x1="353.90" y1="334.20" x2="358.70" y2="334.20" stroke="#000" stroke-width="1.3" />
<text transform="translate(343.26,336.80) scale(1.1200,1)" font-size="7.6" font-weight="normal" fill="#111" stroke="#111" stroke-width="0.2" >30</text>
<line x1="353.90" y1="355.80" x2="358.70" y2="355.80" stroke="#000" stroke-width="1.3" />
<text transform="translate(343.26,358.40) scale(1.1200,1)" font-size="7.6" font-weight="normal" fill="#111" stroke="#111" stroke-width="0.2" >20</text>
<line x1="353.90" y1="377.60" x2="358.70" y2="377.60" stroke="#000" stroke-width="1.3" />
<text transform="translate(343.26,380.20) scale(1.1200,1)" font-size="7.6" font-weight="normal" fill="#111" stroke="#111" stroke-width="0.2" >10</text>
<line x1="353.90" y1="399.30" x2="358.70" y2="399.30" stroke="#000" stroke-width="1.3" />
<text transform="translate(348.00,401.90) scale(1.1200,1)" font-size="7.6" font-weight="normal" fill="#111" stroke="#111" stroke-width="0.2" >0</text>
<line x1="381.30" y1="399.60" x2="381.30" y2="404.20" stroke="#000" stroke-width="1.3" />
<line x1="406.70" y1="399.60" x2="406.70" y2="404.20" stroke="#000" stroke-width="1.3" />
<line x1="431.90" y1="399.60" x2="431.90" y2="404.20" stroke="#000" stroke-width="1.3" />
<line x1="456.30" y1="399.60" x2="456.30" y2="404.20" stroke="#000" stroke-width="1.3" />
<line x1="363.80" y1="399.60" x2="363.80" y2="402.60" stroke="#000" stroke-width="1.3" />
<line x1="376.60" y1="399.60" x2="376.60" y2="402.60" stroke="#000" stroke-width="1.3" />
<line x1="399.20" y1="399.60" x2="399.20" y2="402.60" stroke="#000" stroke-width="1.3" />
<line x1="424.00" y1="399.60" x2="424.00" y2="402.60" stroke="#000" stroke-width="1.3" />
<line x1="447.80" y1="399.60" x2="447.80" y2="402.60" stroke="#000" stroke-width="1.3" />
<line x1="367.70" y1="399.60" x2="367.70" y2="404.20" stroke="#000" stroke-width="1.3" />
<line x1="369.40" y1="399.60" x2="369.40" y2="404.20" stroke="#000" stroke-width="1.3" />
<text transform="translate(374.46,415.90) scale(1.1500,1)" font-size="7.6" font-weight="normal" fill="#1a1a1a" stroke="#1a1a1a" stroke-width="0.22" >10</text>
<text transform="translate(383.99,412.50) scale(1.1500,1)" font-size="6.0" font-weight="normal" fill="#1a1a1a" stroke="#1a1a1a" stroke-width="0.15" >2</text>
<text transform="translate(399.79,415.90) scale(1.1500,1)" font-size="7.6" font-weight="normal" fill="#1a1a1a" stroke="#1a1a1a" stroke-width="0.22" >10</text>
<text transform="translate(409.41,412.50) scale(1.1500,1)" font-size="6.0" font-weight="normal" fill="#1a1a1a" stroke="#1a1a1a" stroke-width="0.15" >3</text>
<text transform="translate(424.89,415.90) scale(1.1500,1)" font-size="7.6" font-weight="normal" fill="#1a1a1a" stroke="#1a1a1a" stroke-width="0.22" >10</text>
<text transform="translate(434.61,412.50) scale(1.1500,1)" font-size="6.0" font-weight="normal" fill="#1a1a1a" stroke="#1a1a1a" stroke-width="0.15" >4</text>
<text transform="translate(449.39,415.90) scale(1.1500,1)" font-size="7.6" font-weight="normal" fill="#1a1a1a" stroke="#1a1a1a" stroke-width="0.22" >10</text>
<text transform="translate(459.00,412.50) scale(1.1500,1)" font-size="6.0" font-weight="normal" fill="#1a1a1a" stroke="#1a1a1a" stroke-width="0.15" >5</text>
<text transform="translate(367.28,415.90) scale(1.1000,1)" font-size="7.6" font-weight="normal" fill="#1a1a1a" stroke="#1a1a1a" stroke-width="0.2" >0</text>
<text transform="translate(44.40,354.69) rotate(-90) scale(0.9141,1)" font-size="10.0" font-weight="normal" fill="#1a1a1a" stroke="#1a1a1a" stroke-width="0.35">c-kit</text>
<text transform="translate(109.79,428.30) scale(0.6780,1)" font-size="11.0" font-weight="normal" fill="#1a1a1a" stroke="#1a1a1a" stroke-width="0.4" >Lineage</text>
<text transform="translate(255.85,431.50) scale(0.6995,1)" font-size="11.0" font-weight="normal" fill="#1a1a1a" stroke="#1a1a1a" stroke-width="0.4" >Sca-I</text>
<text transform="translate(405.04,430.90) scale(0.6199,1)" font-size="11.4" font-weight="normal" fill="#1a1a1a" stroke="#1a1a1a" stroke-width="0.4" >GFP</text>
<text transform="translate(336.20,372.44) rotate(-90) scale(0.7849,1)" font-size="10.0" font-weight="normal" fill="#1a1a1a" stroke="#1a1a1a" stroke-width="0.35">Number of cells</text>
<rect x="1" y="1" width="518" height="443" fill="none" stroke="#000" stroke-width="2"/>
</svg></body></html>
